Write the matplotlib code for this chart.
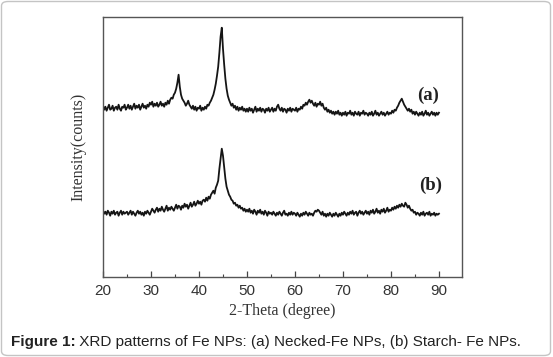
import numpy as np
import matplotlib
matplotlib.use("Agg")
import matplotlib.pyplot as plt
from matplotlib.patches import FancyBboxPatch
from matplotlib.ticker import MultipleLocator

# 2-theta grid of the scans (degree), 0.25 step
two_theta = np.arange(20, 90.001, 0.25)

# (a) Necked-Fe NPs, intensity in arbitrary units (offset trace)
necked = [
    171, 167, 170, 166, 169, 172, 167, 168, 171, 166, 169, 170, 167, 172, 168, 166, 170, 169, 172, 167,
    169, 172, 168, 171, 167, 170, 173, 168, 171, 169, 172, 167, 170, 173, 169, 171, 168, 172, 170, 174,
    172, 175, 170, 173, 171, 174, 170, 172, 175, 171, 173, 170, 174, 172, 176, 173, 177, 179, 178, 182,
    184, 188, 194, 202, 190, 182, 178, 176, 174, 171, 173, 176, 172, 170, 168, 171, 167, 170, 166, 169,
    168, 171, 166, 169, 167, 170, 168, 172, 171, 174, 176, 179, 182, 187, 193, 201, 210, 224, 240, 249,
    228, 212, 198, 188, 181, 177, 174, 171, 173, 169, 171, 167, 170, 166, 169, 167, 170, 166, 168, 165,
    168, 165, 169, 166, 168, 164, 167, 170, 165, 168, 166, 169, 165, 168, 167, 164, 168, 166, 169, 165,
    167, 169, 165, 168, 166, 170, 172, 168, 166, 169, 165, 168, 167, 164, 168, 166, 169, 165, 168, 167,
    166, 169, 165, 168, 167, 170, 168, 172, 171, 174, 172, 175, 177, 174, 176, 173, 171, 174, 170, 173,
    172, 175, 171, 173, 169, 167, 169, 165, 167, 164, 166, 163, 165, 162, 165, 163, 166, 162, 164, 161,
    164, 162, 165, 161, 164, 163, 166, 162, 164, 161, 165, 163, 162, 165, 161, 164, 163, 166, 162, 164,
    163, 161, 164, 162, 165, 161, 163, 166, 162, 164, 161, 163, 165, 162, 164, 161, 163, 165, 162, 164,
    163, 166, 164, 167, 166, 169, 171, 174, 176, 178, 175, 172, 170, 168, 166, 168, 165, 167, 163, 165,
    162, 165, 163, 161, 164, 162, 165, 161, 163, 166, 162, 164, 161, 163, 165, 162, 164, 161, 164, 162,
    164,
]

# (b) Starch-Fe NPs
starch = [
    66, 63, 65, 62, 66, 64, 61, 65, 63, 66, 62, 64, 65, 61, 64, 66, 62, 65, 63, 64,
    65, 62, 64, 66, 62, 65, 63, 61, 64, 66, 63, 65, 62, 64, 61, 65, 63, 66, 64, 62,
    65, 68, 66, 64, 67, 69, 65, 68, 66, 70, 67, 65, 68, 71, 66, 69, 67, 70, 68, 66,
    69, 72, 68, 71, 70, 67, 71, 69, 73, 70, 72, 68, 71, 74, 70, 72, 75, 71, 73, 76,
    73, 75, 72, 76, 77, 75, 79, 76, 80, 78, 82, 84, 86, 83, 89, 92, 96, 108, 118, 128,
    121, 110, 98, 90, 86, 82, 80, 77, 76, 73, 74, 71, 72, 69, 71, 68, 69, 66, 68, 65,
    67, 65, 68, 64, 66, 63, 67, 65, 62, 66, 64, 67, 63, 65, 62, 66, 64, 61, 65, 63,
    64, 62, 65, 63, 61, 64, 62, 65, 63, 61, 64, 66, 62, 63, 61, 64, 62, 65, 62, 64,
    63, 61, 64, 62, 60, 63, 61, 64, 62, 65, 63, 61, 64, 62, 63, 61, 64, 66, 65, 67,
    66, 64, 62, 65, 61, 63, 60, 63, 61, 64, 62, 60, 63, 61, 64, 62, 60, 63, 61, 64,
    62, 65, 63, 61, 64, 62, 65, 63, 66, 62, 64, 65, 61, 64, 66, 63, 65, 62, 64, 66,
    63, 65, 62, 66, 64, 67, 63, 65, 68, 64, 66, 63, 67, 65, 68, 64, 66, 69, 65, 67,
    66, 69, 67, 70, 68, 71, 69, 72, 70, 73, 71, 70, 74, 72, 69, 71, 68, 66, 67, 64,
    65, 62, 64, 63, 61, 64, 62, 65, 61, 63, 64, 62, 65, 61, 63, 62, 64, 61, 63, 62,
    63,
]

caption_bold = "Figure 1:"
caption_rest = " XRD patterns of Fe NPs: (a) Necked-Fe NPs, (b) Starch- Fe NPs."

W, H = 553, 357
fig = plt.figure(figsize=(W / 100, H / 100), dpi=100)

# light rounded frame round the whole figure
frame = FancyBboxPatch((1.5 / W, 1.5 / H), 549 / W, 354 / H,
                       boxstyle="round,pad=0,rounding_size=0.012",
                       transform=fig.transFigure, facecolor="none",
                       edgecolor="#c4c4c4", linewidth=1.0)
fig.patches.append(frame)

ax = fig.add_axes([103 / W, (H - 276.7) / H, 359 / W, 259.4 / H])
ax.plot(two_theta, necked, color="#151515", lw=1.3)
ax.plot(two_theta, starch, color="#151515", lw=1.3)

ax.set_xlim(20, 94.8)
ax.set_ylim(0, 259.4)
ax.xaxis.set_minor_locator(MultipleLocator(5))
ax.set_xticks(np.arange(20, 91, 10))
ax.set_yticks([])
ax.tick_params(axis="x", which="major", direction="in", length=4, width=0.9,
               color="#444444", pad=5, labelsize=11, labelcolor="#333333")
ax.tick_params(axis="x", which="minor", direction="in", length=2.5, width=0.8,
               color="#444444")
for lab in ax.get_xticklabels():
    lab.set_family("Liberation Sans")
for sp in ax.spines.values():
    sp.set_color("#555555")
    sp.set_linewidth(1.0)

ax.set_xlabel("2-Theta (degree)", family="Liberation Serif", fontsize=11.5,
              color="#333333", labelpad=4)
ax.set_ylabel("Intensity(counts)", family="Liberation Serif", fontsize=11.5,
              color="#333333", labelpad=12)

ax.annotate("(a)", xy=(427.7 / W, (H - 95) / H), xycoords="figure fraction",
            family="Liberation Serif", fontweight="bold", fontsize=13.5,
            color="#222222", ha="center", va="center")
ax.annotate("(b)", xy=(430.7 / W, (H - 185) / H), xycoords="figure fraction",
            family="Liberation Serif", fontweight="bold", fontsize=13.5,
            color="#222222", ha="center", va="center")

t1 = fig.text(10.6 / W, (H - 342) / H, caption_bold, family="Liberation Sans",
              fontweight="bold", fontsize=11, color="#222222", va="center")
fig.canvas.draw()
bb = t1.get_window_extent()
fig.text(bb.x1 / W, (H - 342) / H, caption_rest, family="Liberation Sans",
         fontsize=11, color="#222222", va="center")

fig.savefig("out.png", dpi=100)
